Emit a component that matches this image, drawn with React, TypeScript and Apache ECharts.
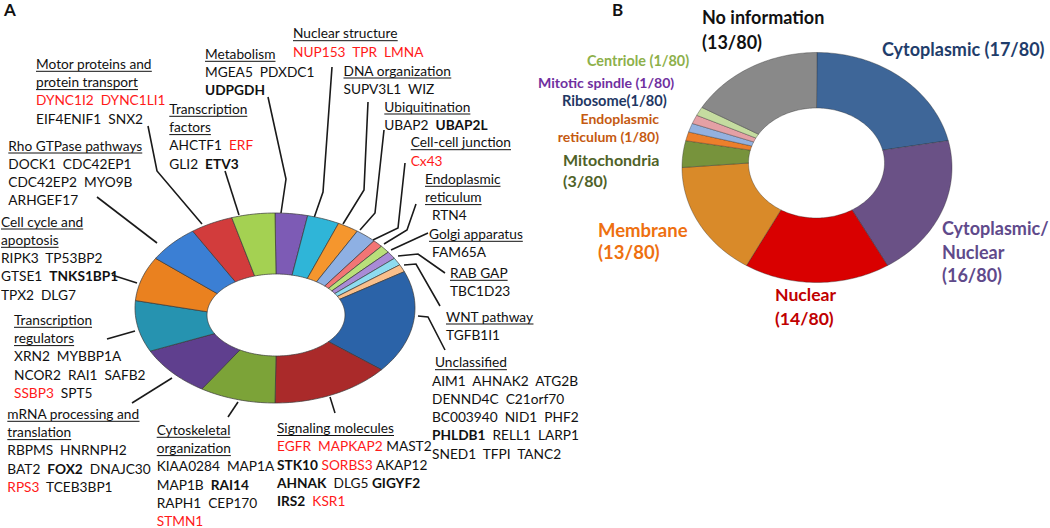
import React, { useEffect, useRef } from 'react';
import * as echarts from 'echarts';

// ---------- Panel A data ----------
const ringACategories = [
  'Metabolism', 'Nuclear structure', 'DNA organization', 'Ubiquitination', 'Cell-cell junction',
  'Endoplasmic reticulum', 'Golgi apparatus', 'RAB GAP', 'WNT pathway', 'Unclassified',
  'Signaling molecules', 'Cytoskeletal organization', 'mRNA processing and translation',
  'Transcription regulators', 'Cell cycle and apoptosis', 'Rho GTPase pathways',
  'Motor proteins and protein transport', 'Transcription factors',
];
const ringAValues = [3, 3, 2, 2, 1, 1, 1, 1, 1, 14, 11, 7, 7, 7, 6, 5, 4, 4];
const ringAColors = [
  '#7d5bb5', '#2fb5d8', '#f5962d', '#8eb0e3', '#f27575', '#b9e07a', '#a98bd6', '#8edcef', '#f9bf8b',
  '#2b63a8', '#aa2a2a', '#7ca338', '#5f3f8e', '#2693b0', '#ea811f', '#3b7fd4', '#d23c3c', '#a4d152',
];
const groupTitles: string[][] = [
  ['Metabolism'], ['Nuclear structure'], ['DNA organization'], ['Ubiquitination'], ['Cell-cell junction'],
  ['Endoplasmic', 'reticulum'], ['Golgi apparatus'], ['RAB GAP'], ['WNT pathway'], ['Unclassified'],
  ['Signaling molecules'], ['Cytoskeletal', 'organization'], ['mRNA processing and', 'translation'],
  ['Transcription', 'regulators'], ['Cell cycle and', 'apoptosis'], ['Rho GTPase pathways'],
  ['Motor proteins and', 'protein transport'], ['Transcription', 'factors'],
];
const groupGenes: string[][] = [
  ['MGEA5  PDXDC1', '{b|UDPGDH}'],
  ['{r|NUP153  TPR  LMNA}'],
  ['SUPV3L1  WIZ'],
  ['UBAP2  {b|UBAP2L}'],
  ['{r|Cx43}'],
  ['RTN4'],
  ['FAM65A'],
  ['TBC1D23'],
  ['TGFB1I1'],
  ['AIM1  AHNAK2  ATG2B', 'DENND4C  C21orf70', 'BC003940  NID1  PHF2', '{b|PHLDB1}  RELL1  LARP1', 'SNED1  TFPI  TANC2'],
  ['{r|EGFR  MAPKAP2} MAST2', '{b|STK10} {r|SORBS3} AKAP12', '{b|AHNAK}  DLG5 {b|GIGYF2}', '{b|IRS2}  {r|KSR1}'],
  ['KIAA0284  MAP1A', 'MAP1B  {b|RAI14}', 'RAPH1  CEP170', '{r|STMN1}'],
  ['RBPMS  HNRNPH2', 'BAT2  {b|FOX2}  DNAJC30', '{r|RPS3}  TCEB3BP1'],
  ['XRN2  MYBBP1A', 'NCOR2  RAI1  SAFB2', '{r|SSBP3}  SPT5'],
  ['RIPK3  TP53BP2', 'GTSE1  {b|TNKS1BP1}', 'TPX2  DLG7'],
  ['DOCK1  CDC42EP1', 'CDC42EP2  MYO9B', 'ARHGEF17'],
  ['{r|DYNC1I2  DYNC1LI1}', 'EIF4ENIF1  SNX2'],
  ['AHCTF1  {r|ERF}', 'GLI2  {b|ETV3}'],
];

// ---------- Panel B data ----------
const ringBCategories = [
  'Cytoplasmic', 'Cytoplasmic/Nuclear', 'Nuclear', 'Membrane', 'Mitochondria',
  'Endoplasmic reticulum', 'Ribosome', 'Mitotic spindle', 'Centriole', 'No information',
];
const ringBValues = [17, 16, 14, 13, 3, 1, 1, 1, 1, 13];
const ringBColors = [
  '#3e6698', '#6a5186', '#d90000', '#d98a29', '#77933c', '#ec7f2c', '#93b1df', '#e4a0a5', '#c5dca0', '#898989',
];
const ringBLabelLines: string[][] = [
  ['Cytoplasmic (17/80)'], ['Cytoplasmic/', 'Nuclear', '(16/80)'], ['Nuclear', '(14/80)'],
  ['Membrane', '(13/80)'], ['Mitochondria', '(3/80)'], ['Endoplasmic', 'reticulum (1/80)'],
  ['Ribosome(1/80)'], ['Mitotic spindle (1/80)'], ['Centriole (1/80)'], ['No information', '(13/80)'],
];
const ringBLabelColors = [
  '#1f3d6b', '#5f4a8b', '#c00000', '#ee7010', '#4f6228', '#c55a11', '#1f3864', '#7030a0', '#8db04a', '#111111',
];

// ---------- layout ----------
const FONT = 'Lato';
const LH = 18.3;
const FS = 13.7;
// [x, y(first line centre), gene dx]
const groupAnchors: number[][] = [
  [205, 53.3, 0], [293, 32.7, 0], [343.5, 70, 0], [384.3, 106, 0], [410.7, 141.7, 0],
  [425, 178.3, 7], [429, 233.3, 3], [450, 272.3, 0], [446, 316, 0], [435, 361.7, -3],
  [277, 427.5, 0], [156.7, 429.3, 0], [7.3, 413.3, 0], [14, 319.3, 0], [1, 221, 0],
  [8.3, 145, 0], [36, 63.3, 0], [169.3, 108.3, 0],
];
const leaderLines: number[][][] = [
  [[268, 97], [286, 179], [281, 213]],
  [[332, 67], [323, 192], [314, 218]],
  [[368, 102], [364, 190], [343, 224]],
  [[384, 130], [375, 213], [360, 230]],
  [[405, 163], [398, 228], [373, 240]],
  [[416, 204], [407, 230], [384, 244]],
  [[428, 233], [391, 250]],
  [[445, 273], [418, 254], [398, 256]],
  [[440, 306], [416, 264], [404, 265]],
  [[445, 350], [428, 317], [418, 316]],
  [[335, 413], [330, 397]],
  [[228, 417], [238, 402]],
  [[132, 403], [172, 378]],
  [[107, 339], [135, 331]],
  [[112, 275], [137, 283]],
  [[97, 197], [157, 243]],
  [[148, 126], [157, 171], [202, 224]],
  [[225, 171], [239, 215]],
];
// [x, y, lineHeight, fontSize, align]
const ringBLabelLayout: any[] = [
  [882, 49.3, 0, 18, 'left'],
  [942, 228, 23.5, 18, 'left'],
  [775, 294, 24, 17.6, 'left'],
  [598, 230, 21.7, 18.5, 'left'],
  [563, 159.3, 20.7, 16, 'left'],
  [659, 118.3, 18.4, 14, 'right'],
  [562, 100.7, 0, 14.6, 'left'],
  [538, 82.3, 0, 14.1, 'left'],
  [587, 60, 0, 14.4, 'left'],
  [702, 17.3, 24.5, 18, 'left'],
];
const ringAGeom = { cx: 275, cy: 308, rx: 140, ry: 95, icx: 276, icy: 315, irx: 69, iry: 41 };
const ringBGeom = { cx: 817, cy: 167.5, rx: 135, ry: 115, icx: 816.5, icy: 163, irx: 68, iry: 55 };

function cumulative(values: number[]) {
  let acc = 0;
  return values.map((v) => {
    const item = [acc, v];
    acc += v;
    return item;
  });
}

function ringRenderer(geom: any, total: number, colors: string[], stroke: string, lw: number) {
  return (params: any, api: any) => {
    const start = api.value(0);
    const val = api.value(1);
    const a0 = (start / total) * Math.PI * 2;
    const a1 = ((start + val) / total) * Math.PI * 2;
    const n = Math.max(2, Math.ceil((a1 - a0) / (Math.PI / 120)));
    const pts: number[][] = [];
    for (let i = 0; i <= n; i++) {
      const a = a0 + ((a1 - a0) * i) / n;
      pts.push([geom.cx + geom.rx * Math.sin(a), geom.cy - geom.ry * Math.cos(a)]);
    }
    for (let i = n; i >= 0; i--) {
      const a = a0 + ((a1 - a0) * i) / n;
      pts.push([geom.icx + geom.irx * Math.sin(a), geom.icy - geom.iry * Math.cos(a)]);
    }
    return {
      type: 'polygon',
      shape: { points: pts },
      style: { fill: colors[params.dataIndex], stroke, lineWidth: lw },
    };
  };
}

let measureCtx: CanvasRenderingContext2D | null = null;
function textWidth(t: string, size: number, weight = 'normal') {
  if (!measureCtx) measureCtx = document.createElement('canvas').getContext('2d');
  measureCtx!.font = `${weight} ${size}px ${FONT}`;
  return measureCtx!.measureText(t).width;
}

function richStyles(size: number) {
  return {
    b: { fontWeight: 'bold', fontSize: size, fontFamily: FONT, fill: '#111' },
    r: { fontWeight: 'normal', fontSize: size, fontFamily: FONT, fill: '#ff1a1a' },
  };
}

function textEl(x: number, y: number, text: string, opts: any = {}) {
  const size = opts.size || FS;
  return {
    type: 'text',
    x,
    y,
    silent: true,
    style: {
      text,
      fill: opts.fill || '#111',
      fontSize: size,
      fontFamily: FONT,
      fontWeight: opts.weight || 'normal',
      align: opts.align || 'left',
      verticalAlign: 'middle',
      textAlign: opts.align || 'left',
      textVerticalAlign: 'middle',
      rich: opts.rich,
    },
  };
}

function buildGraphics() {
  const els: any[] = [];
  groupTitles.forEach((titles, gi) => {
    const [x, y0, gdx] = groupAnchors[gi];
    let y = y0;
    titles.forEach((t) => {
      els.push(textEl(x, y, t));
      const w = textWidth(t, FS);
      els.push({
        type: 'line',
        silent: true,
        shape: { x1: x, y1: y + 8, x2: x + w, y2: y + 8 },
        style: { stroke: '#111', lineWidth: 1 },
      });
      y += LH;
    });
    groupGenes[gi].forEach((g) => {
      els.push(textEl(x + gdx, y, g, { rich: richStyles(FS) }));
      y += LH;
    });
  });
  leaderLines.forEach((pts) => {
    els.push({
      type: 'polyline',
      silent: true,
      shape: { points: pts },
      style: { stroke: '#1a1a1a', lineWidth: 1.6, fill: null },
    });
  });
  ringBLabelLines.forEach((lines, i) => {
    const [x, y0, lh, size, align] = ringBLabelLayout[i];
    lines.forEach((t, k) => {
      els.push(textEl(x, y0 + k * lh, t, { size, weight: 'bold', fill: ringBLabelColors[i], align }));
    });
  });
  els.push(textEl(4, 9, 'A', { size: 17, weight: 'bold' }));
  els.push(textEl(612, 9, 'B', { size: 17, weight: 'bold' }));
  return els;
}

export default function App() {
  const ref = useRef<HTMLDivElement>(null);
  useEffect(() => {
    if (!ref.current) return;
    const chart = echarts.init(ref.current, undefined, { renderer: 'svg' });
    const totalA = ringAValues.reduce((a, b) => a + b, 0);
    const totalB = ringBValues.reduce((a, b) => a + b, 0);
    const dataA = cumulative(ringAValues).map((d, i) => ({ name: ringACategories[i], value: d }));
    const dataB = cumulative(ringBValues).map((d, i) => ({ name: ringBCategories[i], value: d }));
    chart.setOption({
      animation: false,
      backgroundColor: '#ffffff',
      series: [
        {
          type: 'custom',
          name: 'Functional categories',
          coordinateSystem: 'none',
          renderItem: ringRenderer(ringAGeom, totalA, ringAColors, '#3a3a3a', 0.7),
          data: dataA,
          silent: true,
        },
        {
          type: 'custom',
          name: 'Subcellular localization',
          coordinateSystem: 'none',
          renderItem: ringRenderer(ringBGeom, totalB, ringBColors, 'rgba(40,40,40,0.45)', 0.8),
          data: dataB,
          silent: true,
        },
      ],
      graphic: { elements: buildGraphics() },
    });
    return () => chart.dispose();
  }, []);
  return (
    <div
      ref={ref}
      style={{ position: 'fixed', left: 0, top: 0, width: 1050, height: 528, background: '#fff' }}
    />
  );
}
